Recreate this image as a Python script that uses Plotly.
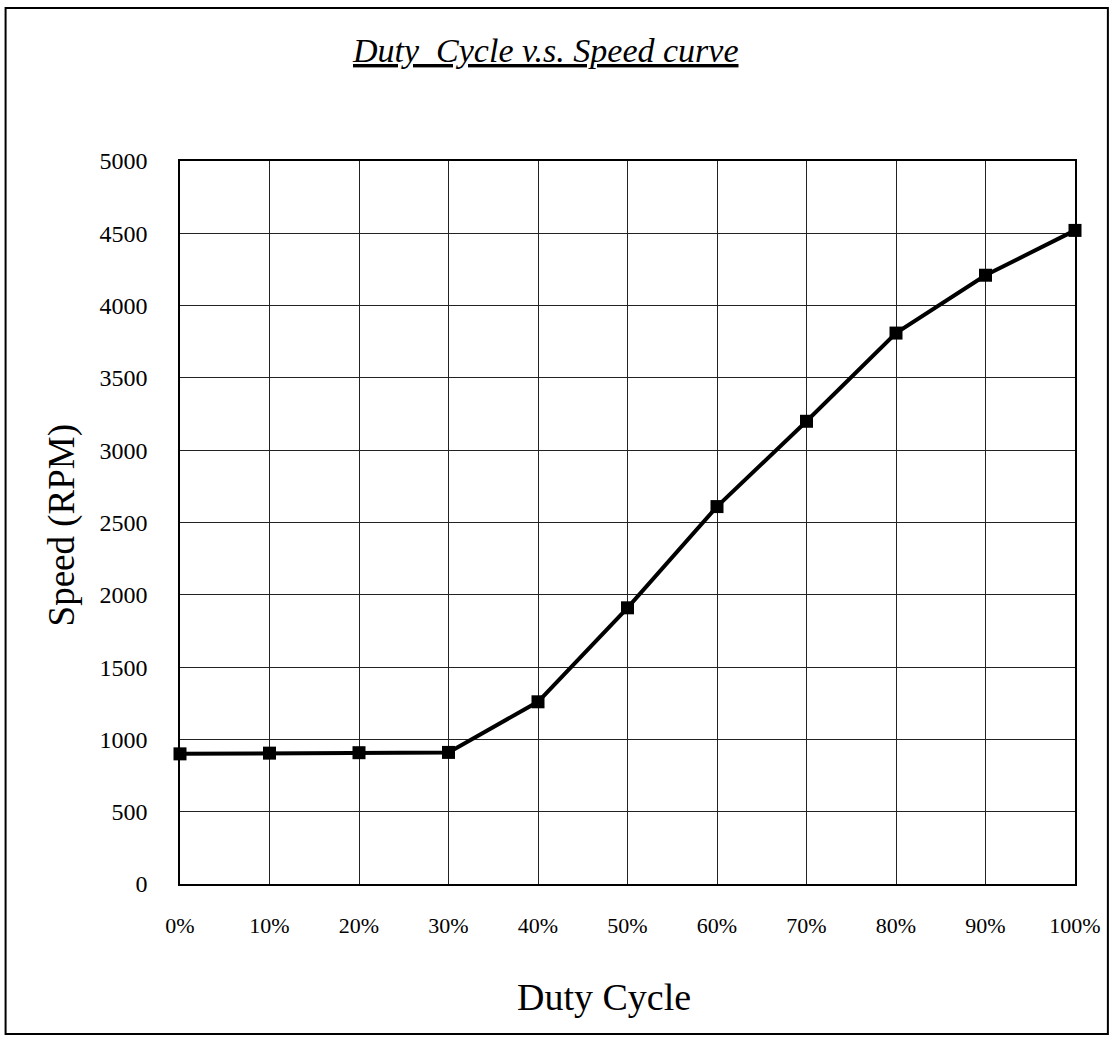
import plotly.graph_objects as go

duty_pct = [0, 10, 20, 30, 40, 50, 60, 70, 80, 90, 100]
duty_labels = ["0%", "10%", "20%", "30%", "40%", "50%", "60%", "70%", "80%", "90%", "100%"]
speed_rpm = [900, 905, 908, 910, 1260, 1910, 2610, 3200, 3810, 4210, 4520]
y_ticks = [0, 500, 1000, 1500, 2000, 2500, 3000, 3500, 4000, 4500, 5000]

W, H = 1113, 1039
L, R, T, B = 180, 35, 161, 155
pw, ph = W - L - R, H - T - B

def px(x):
    return (x - L) / pw

def py(y):
    return (H - B - y) / ph

fig = go.Figure()
fig.add_trace(go.Scatter(
    x=duty_pct, y=speed_rpm, mode="lines+markers",
    line=dict(color="black", width=4),
    marker=dict(symbol="square", size=13, color="black"),
    cliponaxis=False, showlegend=False,
))

serif = "Liberation Serif, Times New Roman, serif"
fig.update_layout(
    width=W, height=H,
    margin=dict(l=L, r=R, t=T, b=B),
    paper_bgcolor="white", plot_bgcolor="white",
    font=dict(family=serif, color="black"),
    xaxis=dict(
        range=[0, 100], tickvals=duty_pct, ticktext=duty_labels,
        showgrid=True, gridcolor="#222", gridwidth=1,
        showline=True, linecolor="black", linewidth=1.5, mirror=True,
        ticks="outside", ticklen=21, tickcolor="rgba(0,0,0,0)",
        tickfont=dict(size=22, family=serif),
        zeroline=False,
    ),
    yaxis=dict(
        range=[0, 5000], tickvals=y_ticks,
        showgrid=True, gridcolor="#222", gridwidth=1,
        showline=True, linecolor="black", linewidth=1.5, mirror=True,
        ticks="outside", ticklen=26, tickcolor="rgba(0,0,0,0)",
        tickfont=dict(size=24, family=serif),
        zeroline=False,
    ),
)

fig.add_annotation(
    x=px(546), y=py(50), xref="paper", yref="paper",
    text="<i><u>Duty  Cycle v.s. Speed curve</u></i>",
    showarrow=False, font=dict(size=34, family=serif, color="black"),
    xanchor="center", yanchor="middle",
)

fig.add_annotation(
    x=px(605), y=py(997), xref="paper", yref="paper",
    text="Duty Cycle",
    showarrow=False, font=dict(size=38, family=serif, color="black"),
    xanchor="center", yanchor="middle",
)

fig.add_annotation(
    x=px(62), y=py(525), xref="paper", yref="paper",
    text="Speed (RPM)", textangle=-90,
    showarrow=False, font=dict(size=37, family=serif, color="black"),
    xanchor="center", yanchor="middle",
)

fig.add_shape(
    type="rect", xref="paper", yref="paper",
    x0=px(5), x1=px(1111), y0=py(1034), y1=py(8),
    line=dict(color="black", width=2), fillcolor="rgba(0,0,0,0)", layer="below",
)

fig.write_html(
    "out.html",
    config={"displayModeBar": False},
    post_script="document.body.style.margin='0';document.body.style.overflow='hidden';",
)
